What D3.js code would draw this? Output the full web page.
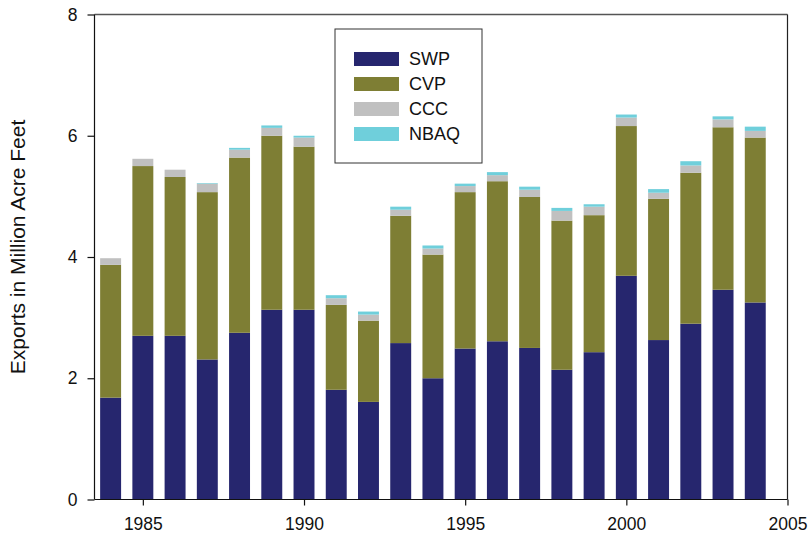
<!DOCTYPE html>
<html>
<head>
<meta charset="utf-8">
<script src="https://cdn.jsdelivr.net/npm/d3@7"></script>
<style>
  body { margin: 0; background: #fff; }
  text { font-family: "Liberation Sans", Arial, sans-serif; fill: #111; }
</style>
</head>
<body>
<script>
// data
var years = [1984,1985,1986,1987,1988,1989,1990,1991,1992,1993,1994,1995,1996,1997,1998,1999,2000,2001,2002,2003,2004];
var swp  = [1.68,2.70,2.70,2.31,2.75,3.13,3.13,1.81,1.61,2.58,2.00,2.49,2.61,2.50,2.14,2.43,3.69,2.63,2.90,3.46,3.25];
var cvp  = [2.19,2.80,2.62,2.76,2.89,2.87,2.69,1.40,1.34,2.10,2.04,2.58,2.64,2.49,2.46,2.26,2.47,2.33,2.49,2.68,2.72];
var ccc  = [0.11,0.12,0.12,0.14,0.13,0.13,0.15,0.11,0.10,0.10,0.10,0.10,0.10,0.12,0.16,0.14,0.14,0.10,0.12,0.13,0.11];
var nbaq = [0.00,0.00,0.00,0.01,0.03,0.04,0.03,0.05,0.05,0.05,0.05,0.04,0.05,0.05,0.05,0.04,0.05,0.06,0.07,0.05,0.07];
var seriesNames = ["SWP","CVP","CCC","NBAQ"];
var seriesColors = ["#26266e","#7e7e34","#c0c0c0","#6fcfdb"];
var xTicks = [1985,1990,1995,2000,2005];
var yTicks = [0,2,4,6,8];
var yTitle = "Exports in Million Acre Feet";

function drawChart() {
    var W = 808, H = 538;
    var pLeft = 94.5, pRight = 787.5, pTop = 14.5, pBottom = 499.5;

    var rows = years.map(function(yr, i) {
        return {year: yr, SWP: swp[i], CVP: cvp[i], CCC: ccc[i], NBAQ: nbaq[i]};
    });
    var stacked = d3.stack().keys(seriesNames)(rows);

    var x = d3.scaleLinear().domain([1983.5, 2005]).range([pLeft, pRight]);
    var y = d3.scaleLinear().domain([0, 8]).range([pBottom, pTop]);
    var halfW = x(1984.325) - x(1984);

    var svg = d3.select("body").append("svg")
        .attr("width", W)
        .attr("height", H);

    // bars
    svg.append("g").selectAll("g")
        .data(stacked)
        .join("g")
        .attr("fill", function(d, i) { return seriesColors[i]; })
        .selectAll("rect")
        .data(function(d) { return d; })
        .join("rect")
        .attr("x", function(d) { return x(d.data.year) - halfW; })
        .attr("width", halfW * 2)
        .attr("y", function(d) { return y(d[1]); })
        .attr("height", function(d) { return Math.max(0, y(d[0]) - y(d[1])); });

    // frame top / right
    svg.append("line").attr("x1", pLeft).attr("x2", pRight).attr("y1", pTop).attr("y2", pTop)
        .attr("stroke", "#555").attr("stroke-width", 1.4);
    svg.append("line").attr("x1", pRight).attr("x2", pRight).attr("y1", pTop).attr("y2", pBottom)
        .attr("stroke", "#222").attr("stroke-width", 1.2);

    // axes
    var xAxis = svg.append("g")
        .attr("transform", "translate(0," + pBottom + ")")
        .call(d3.axisBottom(x).tickValues(xTicks).tickFormat(d3.format("d")).tickSize(6).tickPadding(12));
    var yAxis = svg.append("g")
        .attr("transform", "translate(" + pLeft + ",0)")
        .call(d3.axisLeft(y).tickValues(yTicks).tickSize(7).tickPadding(10));

    [xAxis, yAxis].forEach(function(a) {
        a.select(".domain").attr("stroke", "#111").attr("stroke-width", 1.2);
        a.selectAll(".tick line").attr("stroke", "#111").attr("stroke-width", 1.2);
        a.selectAll(".tick text").attr("font-size", 17.5).attr("font-family", "Liberation Sans, Arial, sans-serif").attr("fill", "#111");
    });
    xAxis.select(".domain").attr("d", "M" + pLeft + ",0H" + pRight);
    yAxis.select(".domain").attr("d", "M0," + pTop + "V" + pBottom);

    // y title
    svg.append("text")
        .attr("transform", "translate(25,247) rotate(-90)")
        .attr("text-anchor", "middle")
        .attr("font-size", 21)
        .text(yTitle);

    // legend
    var lg = svg.append("g").attr("transform", "translate(335,29)");
    lg.append("rect").attr("width", 147).attr("height", 134)
        .attr("fill", "#fff").attr("stroke", "#333").attr("stroke-width", 1);
    lg.selectAll("rect.sw")
        .data(seriesNames)
        .join("rect")
        .attr("class", "sw")
        .attr("x", 19).attr("y", function(d, i) { return 23 + i * 25; })
        .attr("width", 45).attr("height", 14)
        .attr("fill", function(d, i) { return seriesColors[i]; });
    lg.selectAll("text")
        .data(seriesNames)
        .join("text")
        .attr("x", 74).attr("y", function(d, i) { return 36 + i * 25; })
        .attr("font-size", 18)
        .text(function(d) { return d; });
}

drawChart();
</script>
</body>
</html>
